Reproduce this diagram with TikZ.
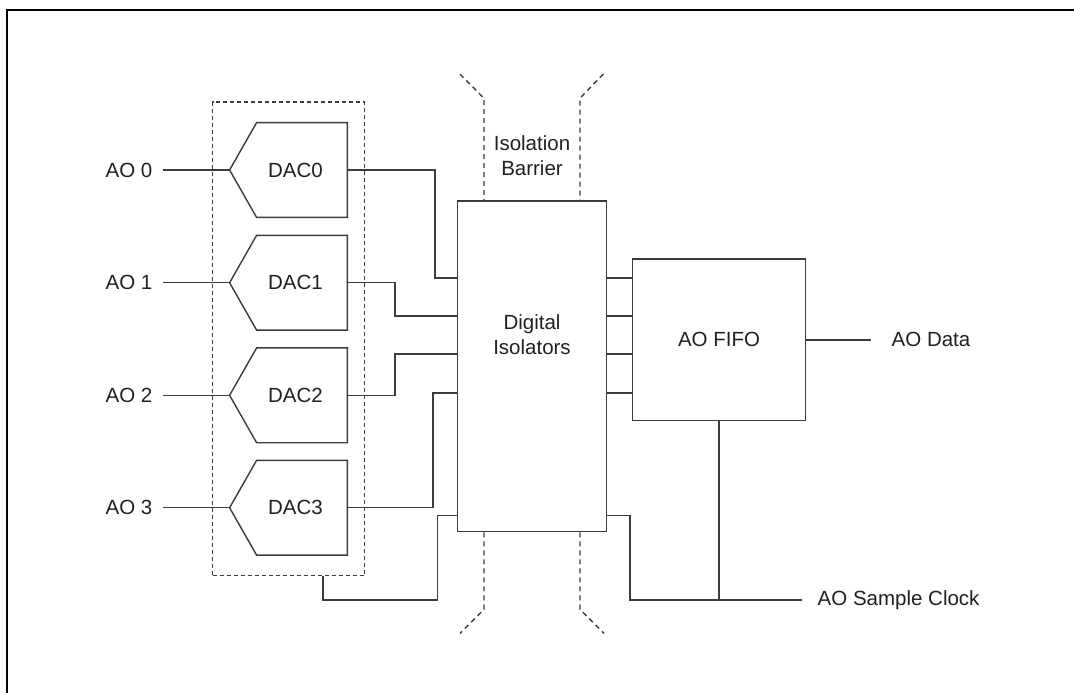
\documentclass[tikz,border=0pt]{standalone}
\usepackage{fontspec}
\setmainfont{Liberation Sans}
\usepackage{tikz}
\usetikzlibrary{positioning,fit,calc}
\definecolor{linegray}{HTML}{3C3C3C}
\definecolor{inkgray}{HTML}{231F20}
\tikzset{
  blk/.style={draw=linegray, line width=.7pt, inner sep=0pt, align=center, font=\fontsize{10.25}{12.5}\selectfont, text=inkgray},
  wire/.style={draw=linegray, line width=.7pt},
  barrier/.style={draw=linegray, line width=.7pt, dash pattern=on 2.5pt off 2pt},
  grpbox/.style={draw=linegray, line width=.7pt, dash pattern=on 2pt off 1.5pt, inner xsep=8.5pt, inner ysep=10.3pt},
  txt/.style={font=\fontsize{10.25}{12.5}\selectfont, text=inkgray, inner sep=0pt, align=center},
  frame/.style={draw=black, line width=1.1pt},
}
\begin{document}
\begin{tikzpicture}[x=0.5pt, y=-0.5pt]
  \useasboundingbox (0,0) rectangle (1074,692);
  \draw[frame] (6.7,700) -- (6.7,10) -- (1080,10);
  \foreach \i/\y in {0/170,1/282.7,2/395.3,3/507.7}{
    \node[minimum width=58.5pt, minimum height=47pt, inner sep=0pt] (dac\i) at (288.5,\y) {};
    \draw[wire] (dac\i.north east) -- (dac\i.south east) -- ([xshift=13.5pt]dac\i.south west) -- (dac\i.west) -- ([xshift=13.5pt]dac\i.north west) -- cycle;
    \node[txt] (dac\i txt) at (295.5,\y) {DAC\i};
    \node[txt, anchor=east, inner xsep=5.3pt] (ao\i) at (163.3,\y) {AO \i};
    \draw[wire] (ao\i.east) -- (dac\i.west);
  }
  \node[grpbox, fit=(dac0)(dac3)] (grp) {};
  \node[blk, minimum width=74.5pt, minimum height=165.35pt] (iso) at (532.2,366.4) {};
  \node[txt] (isotxt) at (532,335) {Digital\\Isolators};
  \node[blk, minimum width=86.7pt, minimum height=80.85pt] (fifo) at (719,339.9) {AO FIFO};
  \node[txt] (barlbl) at (532,156) {Isolation\\Barrier};
  \node[txt, anchor=west, inner xsep=10.3pt] (data) at ([xshift=32.15pt]fifo.east) {AO Data};
  \node[txt, anchor=west, inner xsep=7.5pt] (clk) at (802.3,600) {AO Sample Clock};

  \draw[wire] (dac0.east) -- (435,170) |- (iso.west |- 0,278);
  \draw[wire] (dac1.east) -- (395,282.7) |- (iso.west |- 0,316);
  \draw[wire] (dac2.east) -- (395,395.3) |- (iso.west |- 0,354);
  \draw[wire] (dac3.east) -- (433,507.7) |- (iso.west |- 0,393);
  \draw[wire] (grp.south -| 323,0) -- (323,600) -| (437.7,515.7) -- (iso.west |- 0,515.7);
  \foreach \y in {278,316,354,393}
    \draw[wire] (iso.east |- 0,\y) -- (fifo.west |- 0,\y);
  \draw[wire] (fifo.east) -- (data.west);
  \draw[wire] (iso.east |- 0,515.7) -- (630,515.7) |- (clk.west);
  \draw[wire] (fifo.south) -- (fifo.south |- clk.west);

  \draw[barrier] (460,74) -- (484,98.3) -- (iso.north -| 484,0);
  \draw[barrier] (603.3,74) -- (580,98.3) -- (iso.north -| 580,0);
  \draw[barrier] (iso.south -| 484,0) -- (484,609.3) -- (460,633.3);
  \draw[barrier] (iso.south -| 580,0) -- (580,609.3) -- (604,633.3);
\end{tikzpicture}
\end{document}
